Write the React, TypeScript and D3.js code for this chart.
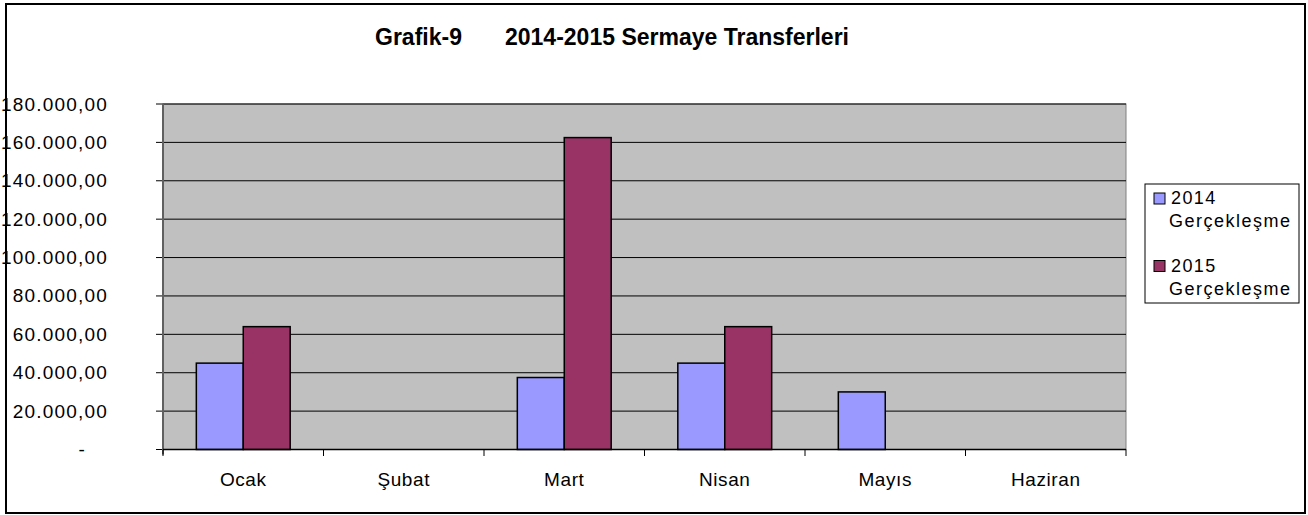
import React from 'react';
import * as d3 from 'd3';

const categories = ['Ocak', 'Şubat', 'Mart', 'Nisan', 'Mayıs', 'Haziran'];
const seriesNames = ['2014', '2015'];
const values2014 = [45000, 0, 37500, 45000, 30000, 0];
const values2015 = [64000, 0, 162500, 64000, 0, 0];
const yTicks = [0, 20000, 40000, 60000, 80000, 100000, 120000, 140000, 160000, 180000];
const colors = ['#9999FF', '#993366'];

const W = 1308;
const H = 515;
const margin = { left: 163, right: 1126, top: 104, bottom: 449.5 };

const fmt = (v: number) => {
  if (v === 0) return '-';
  const s = d3.format(',.2f')(v);
  return s.replace(/,/g, '#').replace('.', ',').replace(/#/g, '.');
};

const App: React.FC = () => {
  const x = d3.scaleBand<string>().domain(categories).range([margin.left, margin.right]);
  const y = d3.scaleLinear().domain([0, 180000]).range([margin.bottom, margin.top]);
  const inner = d3.scaleBand<string>().domain(seriesNames).range([0, x.bandwidth()]).paddingOuter(0.71).paddingInner(0);
  const series = [values2014, values2015];
  const font = 'Arial, "Liberation Sans", sans-serif';

  return (
    <svg width={W} height={H} style={{ position: 'absolute', left: 0, top: 0, background: '#fff' }} fontFamily={font}>
      <rect x={6} y={4} width={1299} height={509} fill="#fff" stroke="#000" strokeWidth={2} />
      <text x={375} y={45} fontSize={23} fontWeight="bold">Grafik-9</text>
      <text x={505} y={45} fontSize={23} fontWeight="bold">2014-2015 Sermaye Transferleri</text>

      <rect x={margin.left} y={margin.top} width={margin.right - margin.left} height={margin.bottom - margin.top} fill="#C0C0C0" stroke="#808080" strokeWidth={1} />
      {yTicks.map(t => (
        <g key={t}>
          {t > 0 && <line x1={margin.left} x2={margin.right} y1={y(t)} y2={y(t)} stroke="#000" strokeWidth={1} />}
          <line x1={156} x2={margin.left} y1={y(t)} y2={y(t)} stroke="#000" strokeWidth={1} />
          <text x={t === 0 ? 86 : 108} y={y(t) + 6.5} fontSize={19} textAnchor="end" letterSpacing={1.2}>{fmt(t)}</text>
        </g>
      ))}
      <line x1={margin.left} x2={margin.left} y1={margin.top} y2={margin.bottom + 5} stroke="#606060" strokeWidth={2} />

      {categories.map((c, i) => (
        <g key={c}>
          {series.map((vals, s) => vals[i] > 0 && (
            <rect key={s}
              x={(x(c) ?? 0) + (inner(seriesNames[s]) ?? 0)}
              y={y(vals[i])}
              width={inner.bandwidth()}
              height={y(0) - y(vals[i])}
              fill={colors[s]} stroke="#000" strokeWidth={1.5} />
          ))}
          <text x={(x(c) ?? 0) + x.bandwidth() / 2} y={486} fontSize={19} textAnchor="middle" letterSpacing={0.6}>{c}</text>
        </g>
      ))}
      <line x1={margin.left} x2={margin.right} y1={margin.bottom} y2={margin.bottom} stroke="#000" strokeWidth={1.5} />
      {d3.range(categories.length + 1).map(i => {
        const xx = margin.left + i * x.bandwidth();
        return <line key={i} x1={xx} x2={xx} y1={margin.bottom} y2={456} stroke="#000" strokeWidth={1} />;
      })}

      <rect x={1145} y={184} width={154} height={119} fill="#fff" stroke="#000" strokeWidth={1} />
      {seriesNames.map((s, i) => (
        <g key={s} transform={`translate(0, ${i * 67.5})`}>
          <rect x={1154} y={193} width={11} height={11} fill={colors[i]} stroke="#000" strokeWidth={1} />
          <text x={1171} y={204} fontSize={18} letterSpacing={1.4}>{s}</text>
          <text x={1169} y={227} fontSize={18} letterSpacing={1.5}>Gerçekleşme</text>
        </g>
      ))}
    </svg>
  );
};

export default App;
